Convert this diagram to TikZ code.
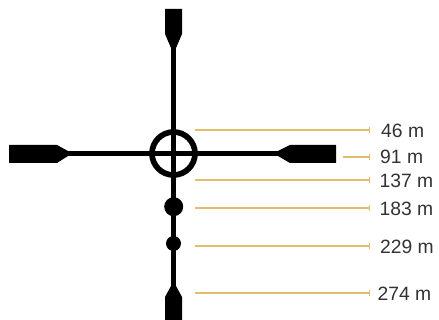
\documentclass[tikz,border=0pt]{standalone}
\usepackage{fontspec}
\setmainfont{Liberation Sans}
\definecolor{gold}{HTML}{E2BE6A}
\definecolor{labelgray}{HTML}{333333}
\tikzset{
  reticle/.style={line width=5pt,draw=black},
  post/.style={fill=black,draw=none},
  ring/.style={circle,draw=black,line width=5.7pt,fill=none,minimum size=43pt,inner sep=0pt},
  dot/.style={circle,fill=black,draw=none,inner sep=0pt},
  leader/.style={draw=gold,line width=1.4pt},
  tickmark/.style={draw=gold,line width=0.8pt},
  rangelabel/.style={anchor=west,inner sep=0pt,text=labelgray,font=\fontsize{19.3pt}{20pt}\selectfont}
}
\begin{document}
\begin{tikzpicture}[x=1pt,y=-1pt]
\useasboundingbox (0,0) rectangle (439,320);
% posts
\fill[post] (165,9) -- (182,9) -- (182,34) -- (176,48) -- (171,48) -- (165,34) -- cycle;
\fill[post] (165,320) -- (182,320) -- (182,297) -- (176,286) -- (171,286) -- (165,297) -- cycle;
\fill[post] (9,145) -- (57,145) -- (68,151) -- (68,156) -- (57,163) -- (9,163) -- cycle;
\fill[post] (336,145) -- (290,145) -- (278,151) -- (278,156) -- (290,163) -- (336,163) -- cycle;
% crosshair
\coordinate (top) at (173.5,40);
\coordinate (bottom) at (173.5,295);
\coordinate (left) at (60,153.5);
\coordinate (right) at (285,153.5);
\draw[reticle] (top) -- (bottom);
\draw[reticle] (left) -- (right);
\node[ring] (centre) at (173.5,153.5) {};
\node[dot,minimum size=19pt] (dotA) at (173.7,206.7) {};
\node[dot,minimum size=15pt] (dotB) at (173.5,243.5) {};
% labels
\node[rangelabel] (m46) at (381,131) {46 m};
\node[rangelabel] (m91) at (380,157) {91 m};
\node[rangelabel] (m137) at (379.5,180.5) {137 m};
\node[rangelabel] (m183) at (379.5,208.5) {183 m};
\node[rangelabel] (m229) at (380,247) {229 m};
\node[rangelabel] (m274) at (377.5,293.5) {274 m};
% leaders
\foreach \n/\xa/\yy in {a/195/130,b/343/157,c/195/180,d/195/208,e/195/246,f/195/293}{
  \coordinate (\n0) at (\xa,\yy);
  \coordinate (\n1) at (369.5,\yy);
  \draw[leader] (\n0) -- (\n1);
  \draw[tickmark] ([yshift=-2.7pt]\n1) -- ([yshift=2.7pt]\n1);
}
\end{tikzpicture}
\end{document}
